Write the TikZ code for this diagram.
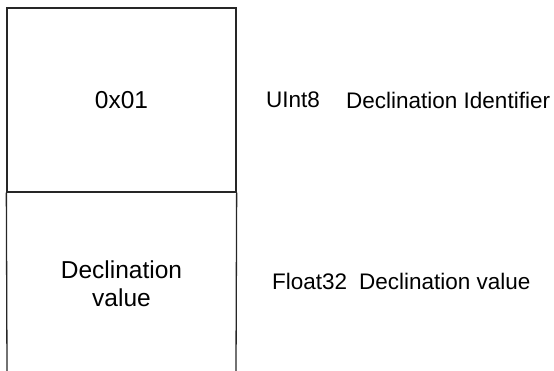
\documentclass[tikz,border=0pt]{standalone}
\usepackage{fontspec}
\setmainfont{Liberation Sans}
\begin{document}
\begin{tikzpicture}[x=1pt,y=-1pt,
  boxline/.style={draw=black!85, line width=1.3pt},
  boxtext/.style={font=\fontsize{24.5}{28}\selectfont, align=center, inner sep=0pt},
  sidetext/.style={font=\fontsize{22.5}{27}\selectfont, anchor=west, inner sep=0pt}]
\useasboundingbox (0,0) rectangle (554,371);
\node[boxline, minimum width=229pt, minimum height=184pt, inner sep=0pt] (f1) at (121.5,100) {};
\node[boxtext] (t1) at (f1.center) {0x01};
\coordinate (f2tl) at (f1.south west);
\coordinate (f2tr) at (f1.south east);
\coordinate (f2bl) at (7,371);
\coordinate (f2br) at (236,371);
\draw[boxline] (f2tl) -- (f2bl);
\draw[boxline] (f2tr) -- (f2br);
\node[boxtext] (t2) at (121.5,284) {Declination\\value};
\node[sidetext] (u8) at (266,100) {UInt8};
\node[sidetext] (did) at (346,100) {Declination Identifier};
\node[sidetext] (f32) at (272,281) {Float32};
\node[sidetext] (dv) at (359,281) {Declination value};
\end{tikzpicture}
\end{document}
